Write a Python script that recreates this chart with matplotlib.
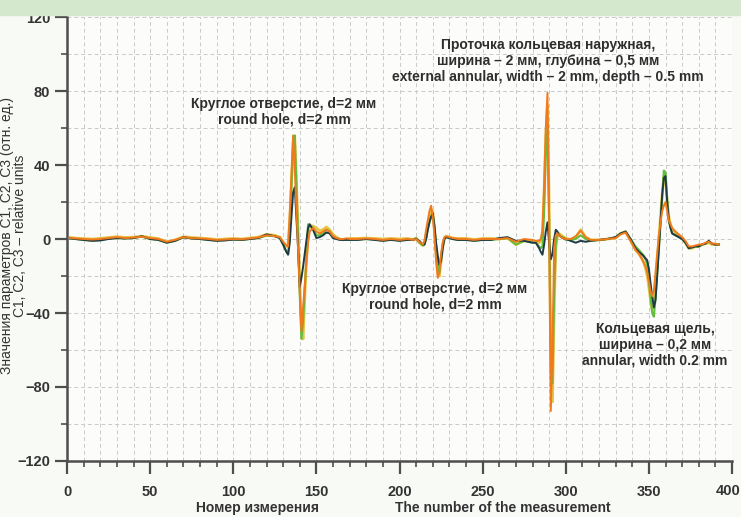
import matplotlib
matplotlib.use("Agg")
import matplotlib.pyplot as plt
from matplotlib.ticker import MultipleLocator
from matplotlib.patches import Rectangle

plt.rcParams['font.family'] = ['Liberation Sans', 'DejaVu Sans']

# measurement numbers
measurement = [
    2, 5, 10, 15, 20, 25, 30, 35, 40, 45, 50, 55, 60, 65, 70, 75, 80, 85, 90, 95, 100, 105, 110, 115, 120, 125,
    128, 130, 131, 132, 133, 134, 135, 136, 137, 138, 139, 140, 141, 142, 143, 144, 145, 146,
    148, 150, 152, 154, 156, 158, 160, 162, 164, 166, 168, 170,
    175, 180, 185, 190, 195, 200, 205,
    208, 210, 212, 214, 215, 216, 217, 218, 219, 220, 221, 222, 223, 224, 225, 226, 227, 228,
    230, 232, 235, 240, 245, 250, 255, 260, 265, 270, 275, 280,
    282, 284, 285, 286, 287, 288, 289, 290, 291, 292, 293, 294, 295, 296,
    298, 300, 303, 306, 309, 312, 315, 320, 325, 330,
    333, 336, 339, 342, 344, 346, 347, 348, 349, 350, 351, 352, 353, 354, 355, 356, 357, 358, 359, 360, 361, 362, 363, 364,
    366, 368, 370, 372, 374, 376, 378, 380, 382, 384, 386, 388, 390, 392,
]

# parameter C1 (dark)
c1 = [
    0.3, 0, -0.5, -1, -0.8, 0, 0.5, 0.3, 0.5, 1.5, 0, -0.5, -2, -1, 1, 0.3, 0, -0.5, -1, -0.8, -0.3, -0.5, 0, 0.5, 2.5, 1.5,
    0.5, -3, -5, -7, -8.5, -2, 12, 25, 28, 12, -5, -26, -21, -15, -8, -1, 6, 8,
    5, 0.5, 1, 2, 3.5, 3, 0.5, 0, -0.5, -0.5, -0.5, -0.5,
    -0.5, 0, -0.5, -1, -0.5, -1, -0.5,
    -0.5, 0, -1, -3, -3, 0, 5, 9, 12, 14, 7, -2, -9, -14, -12, -5, 0, 1,
    0.5, 0, -0.5, -0.5, -1, -0.5, -0.5, 0.5, 1, -1, -1, -2,
    -2, -5, -7, -8.5, -3, 4, 9, -2, -11, -8, 0, 5, 4, 2,
    0.5, 0, -1, -2, -1, -1.5, -1, -0.5, 0, 1,
    3, 4, 0, -5, -7, -8.5, -9.5, -10.5, -11.5, -16, -24, -31, -37, -33, -20, -5, 10, 24, 33, 34, 20, 10, 6, 3,
    2, 1, 0, -2, -5, -4.5, -4, -4, -3, -2.5, -1, -2.5, -3, -3,
]

# parameter C2 (orange)
c2 = [
    0.5, 0.3, 0, -0.3, 0, 0.5, 1, 0.5, 0.8, 1.2, 0.5, 0, -1.5, -0.5, 1, 0.5, 0.3, 0, -0.5, -0.3, 0, -0.2, 0.3, 0.8, 2, 1.5,
    1, -1.5, -2.5, -3.5, -4, 14, 34, 56, 38, 16, -6, -28, -50, -37, -25, -13, -2, 4,
    6, 4, 3, 4, 5, 4, 1.5, 0.5, 0, 0, 0.3, 0,
    0, 0.3, 0, -0.5, 0, -0.5, 0,
    -0.5, 0, -1.5, -3, -1, 5, 10, 15, 18, 12, 2, -12, -21, -18, -8, -2, 1, 1.5,
    1, 0.5, 0, 0, -0.5, 0, 0, 0, 0.5, -1.5, 0, -0.5,
    -1, -1, 0, 5, 30, 60, 79, 10, -93, -60, -5, 2, 3, 2,
    0.5, 0, 0, 1.5, 4.5, 1, -0.5, -0.5, 0, 0.5,
    2.5, 3.5, -1, -6, -8, -11, -13, -15, -18, -23, -28, -31, -28, -18, -8, 2, 9, 15, 18, 20, 15, 10, 8, 6,
    4, 2.5, 1, -1, -4, -4, -3.5, -3, -3, -2, -1.5, -2.5, -2.5, -3,
]

# parameter C3 (yellow)
c3 = [
    0.8, 0.5, 0.2, 0, 0.3, 0.8, 1.2, 0.8, 1, 1.5, 0.8, 0.2, -1.5, -0.5, 1.2, 0.8, 0.5, 0.2, -0.3, 0, 0.3, 0, 0.5, 1, 2.5, 2,
    1, -2, -3, -4, -3, 10, 30, 52, 55, 30, 5, -22, -48, -54, -32, -12, 3, 7,
    7, 6, 4.5, 5, 6.5, 5, 2.5, 1, 0, -0.5, 0, 0.3,
    0.3, 0.5, 0.3, 0, 0.3, 0, 0.3,
    -0.5, 0.5, -2, -3.5, -2.5, 2, 7, 12, 16, 15, 6, -6, -18, -20, -12, -4, 0, 1.5,
    1, 0.5, 0.3, 0.3, -0.3, 0.3, 0.3, 0, 0.5, -3, -1, -1,
    -1.5, -2, -1, 3, 25, 55, 72, 20, -70, -88, -40, -5, 2, 3,
    1.5, 0.5, -0.5, 1, 5, 1, -0.5, -0.5, 0, 0.5,
    3, 4, -1, -6, -8, -11, -13, -16, -20, -26, -33, -38, -36, -26, -12, 0, 12, 24, 34, 33, 20, 12, 8, 5,
    3.5, 2, 0.5, -2, -5, -5, -4, -4, -3, -2.5, -2, -3, -3, -3,
]

# parameter (green)
c4 = [
    0.2, 0, -0.5, -0.8, -0.5, 0.2, 0.5, 0.3, 0.5, 1.3, 0, -0.5, -2, -1, 0.8, 0.3, 0, -0.5, -0.8, -0.5, -0.3, -0.5, 0, 0.5, 1.8, 1.5,
    0.5, -3, -5, -7, -8, 4, 28, 50, 56, 30, 0, -30, -54, -45, -27, -10, 8, 7,
    6, 2, 2, 3, 5, 4, 1.5, 0.5, 0, -0.3, -0.3, -0.3,
    -0.3, 0, -0.3, -0.8, -0.3, -0.8, -0.3,
    -0.5, 0.5, -2, -3.5, -3, 0, 5, 9, 12, 13, 7, -4, -14, -18, -10, -3, 0.5, 1,
    0.5, 0, -0.5, -0.5, -0.8, -0.5, -0.5, 0, 0.5, -3, -1, -2,
    -2, -4, -5, -4, 15, 45, 62, 10, -60, -78, -30, -3, 3, 2,
    1, -0.5, -0.5, 0, 2, 0, -1, -0.5, 0, 1,
    3, 4, 0, -4, -6, -8, -9, -11, -14, -22, -32, -40, -42, -32, -18, -6, 8, 22, 37, 36, 22, 10, 6, 3,
    2, 1, 0, -2, -5, -4.5, -4, -4, -3, -2.5, -1.5, -2.5, -3, -3,
]

x_ticks = [0, 50, 100, 150, 200, 250, 300, 350, 400]
x_tick_labels = ['0', '50', '100', '150', '200', '250', '300', '350', '400']
y_ticks = [-120, -80, -40, 0, 40, 80, 120]

W, H = 741, 517
fig = plt.figure(figsize=(W / 100, H / 100), dpi=100, facecolor='#f8faf6')
fig.patches.append(Rectangle((0, 1 - 15 / H), 1, 15 / H, transform=fig.transFigure,
                             color='#d4e8cd', zorder=0))

ax = fig.add_axes([67 / W, 1 - 461 / H, (732 - 67) / W, (461 - 17) / H])
ax.set_facecolor('#fcfdfb')

ax.plot(measurement, c3, color='#e8c444', lw=2.0, zorder=3)
ax.plot(measurement, c4, color='#62bd3c', lw=1.5, zorder=4)
ax.plot(measurement, c1, color='#1e3a44', lw=1.4, zorder=5)
ax.plot(measurement, c2, color='#f07a1e', lw=1.4, zorder=6)

ax.set_xlim(0, 400)
ax.set_ylim(-120, 120)
ax.set_xticks(x_ticks)
# the last label sits at the figure edge and is drawn separately below
ax.set_xticklabels(x_tick_labels[:-1] + [''])
ax.set_yticks(y_ticks)
ax.xaxis.set_minor_locator(MultipleLocator(10))
ax.yaxis.set_minor_locator(MultipleLocator(20))

ax.grid(which='both', color='#c9cbc9', linestyle=(0, (4, 3)), linewidth=0.7, zorder=0)
ax.set_axisbelow(True)

for side in ('top', 'right'):
    ax.spines[side].set_visible(False)
for side in ('left', 'bottom'):
    ax.spines[side].set_linewidth(1.8)
    ax.spines[side].set_color('#4e4e4e')

ax.tick_params(which='major', direction='out', length=9, width=1.6, color='#4e4e4e',
               labelsize=10.5, labelcolor='#333333')
ax.tick_params(which='minor', direction='out', length=4.5, width=1.2, color='#4e4e4e')
ax.tick_params(axis='x', which='major', pad=8)
ax.tick_params(axis='y', which='major', pad=3)
for lbl in ax.get_xticklabels() + ax.get_yticklabels():
    lbl.set_fontweight('bold')


def fx(px):
    return px / W


def fy(py):
    return 1 - py / H


fig.text(fx(740), fy(491), x_tick_labels[-1], fontsize=10.5, fontweight='bold',
         color='#333333', ha='right', va='center')

txt = dict(fontsize=10, fontweight='bold', color='#2e2e2e', ha='center', va='center',
           linespacing=1.15)
fig.text(fx(284), fy(112), 'Круглое отверстие, d=2 мм\nround hole, d=2 mm', **txt)
fig.text(fx(548), fy(61),
         'Проточка кольцевая наружная,\nширина – 2 мм, глубина – 0,5 мм\n'
         'external annular, width – 2 mm, depth – 0.5 mm', **txt)
fig.text(fx(435), fy(297), 'Круглое отверстие, d=2 мм\nround hole, d=2 mm', **txt)
fig.text(fx(655), fy(345), 'Кольцевая щель,\nширина – 0,2 мм\nannular, width 0.2 mm', **txt)

fig.text(fx(258), fy(508), 'Номер измерения', fontsize=10, fontweight='bold',
         color='#333333', ha='center', va='center')
fig.text(fx(503), fy(508), 'The number of the measurement', fontsize=10, fontweight='bold',
         color='#333333', ha='center', va='center')

fig.text(fx(7), fy(236), 'Значения параметров С1, С2, С3 (отн. ед.)', fontsize=10,
         color='#333333', rotation=90, ha='center', va='center')
fig.text(fx(20), fy(236), 'C1, C2, C3 – relative units', fontsize=10,
         color='#333333', rotation=90, ha='center', va='center')

fig.savefig('out.png', dpi=100, facecolor=fig.get_facecolor())
